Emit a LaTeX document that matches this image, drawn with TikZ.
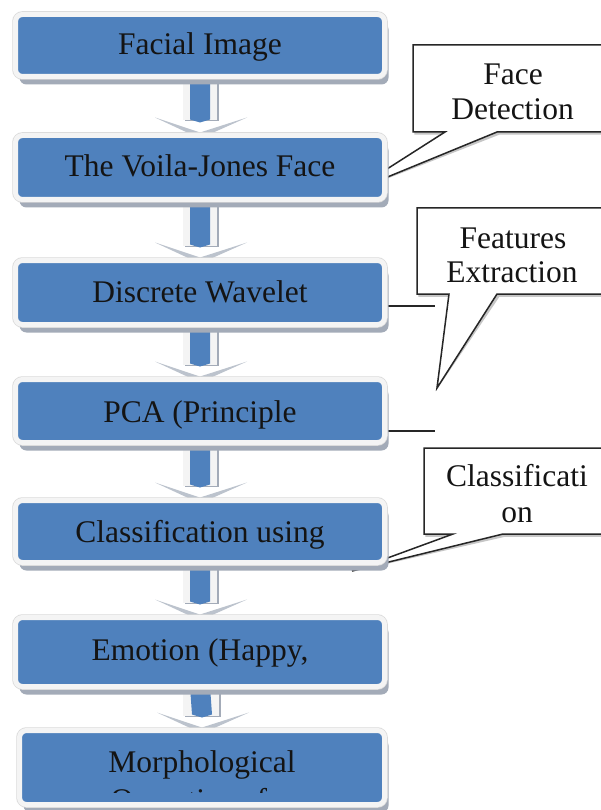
\documentclass[tikz,border=0pt]{standalone}
\usepackage{fontspec}
\setmainfont{Liberation Serif}
\usetikzlibrary{shadows,calc}
\definecolor{boxblue}{HTML}{4F81BD}
\definecolor{shadowgray}{HTML}{A3ABB8}
\definecolor{rimgray}{HTML}{F4F4F4}
\definecolor{chevgray}{HTML}{BCC3CD}
\newcommand\flowarrow[2]{%
  \fill[shadowgray] ([xshift=-15pt]#1.south) rectangle ([xshift=19pt,yshift=14pt]#2.north);
  \fill[rimgray] ([xshift=-17pt]#1.south) rectangle ([xshift=17pt,yshift=15pt]#2.north);
  \fill[boxblue] ([xshift=-10pt]#1.south) -- ([xshift=-10pt,yshift=16pt]#2.north)
     -- ([yshift=13pt]#2.north) -- ([xshift=10pt,yshift=16pt]#2.north)
     -- ([xshift=10pt]#1.south) -- cycle;
  \fill[chevgray] ([xshift=-45pt,yshift=18pt]#2.north) -- ([yshift=3pt]#2.north)
     -- ([xshift=47pt,yshift=18pt]#2.north) -- ([yshift=-3pt]#2.north) -- cycle;
}
\tikzset{
  flowbox/.style={rounded corners=7pt, fill=boxblue, draw=rimgray, line width=5pt,
    inner sep=0pt, outer sep=0pt,
    drop shadow={shadow xshift=4pt, shadow yshift=-8pt, fill=shadowgray, opacity=1},
    preaction={draw=gray!30, line width=6.5pt}},
  lbl/.style={font=\rmfamily\fontsize{31.5}{36}\selectfont, inner sep=0pt, anchor=base, text=black!92},
  callout/.style={fill=white, draw=black!85, line width=1.5pt, line join=miter},
  calloutshadow/.style={fill=gray!45, draw=gray!45, line width=1.5pt, line join=miter},
  tick/.style={draw=black!85, line width=1.5pt}
}
\begin{document}
\begin{tikzpicture}[x=1pt,y=-1pt]
\useasboundingbox (0,0) rectangle (601,810);
\clip (0,0) rectangle (601,810);
\fill[white] (0,0) rectangle (601,810);

% callout shapes (behind the boxes)
\coordinate (fdTip) at (351,192);
\coordinate (feTip) at (437,388);
\coordinate (clTip) at (352,571);
\begin{scope}[shift={(2,2)}]
\path[calloutshadow] (413,45) -- (615,45) -- (615,132) -- (497,132) -- (fdTip) -- (445,132) -- (413,132) -- cycle;
\path[calloutshadow] (417,208) -- (615,208) -- (615,294) -- (497,294) -- (feTip) -- (449,294) -- (417,294) -- cycle;
\path[calloutshadow] (424,448) -- (615,448) -- (615,534) -- (503,534) -- (clTip) -- (453,534) -- (424,534) -- cycle;
\end{scope}
\path[callout] (413,45) -- (615,45) -- (615,132) -- (497,132) -- (fdTip) -- (445,132) -- (413,132) -- cycle;
\path[callout] (417,208) -- (615,208) -- (615,294) -- (497,294) -- (feTip) -- (449,294) -- (417,294) -- cycle;
\path[callout] (424,448) -- (615,448) -- (615,534) -- (503,534) -- (clTip) -- (453,534) -- (424,534) -- cycle;

\node[lbl] (fdA) at (513,85) {Face};
\node[lbl] (fdB) at (512.5,120) {Detection};
\node[lbl] (feA) at (513,248) {Features};
\node[lbl] (feB) at (512,282) {Extraction};
\node[lbl] (clA) at (517,486) {Classificati};
\node[lbl] (clB) at (517,522) {on};

\coordinate (tickA) at (435,306);
\coordinate (tickB) at (435,431);

% box centres
\path (200,45.5)  coordinate (c1);
\path (200,167.5) coordinate (c2);
\path (200,292.5) coordinate (c3);
\path (200,411)   coordinate (c4);
\path (200,531.5) coordinate (c5);
\path (200,652)   coordinate (c6);
\path (202,767.5) coordinate (c7);

% invisible helper nodes for arrows
\node[minimum width=369pt, minimum height=62pt, inner sep=0pt, outer sep=0pt] (b1) at (c1) {};
\node[minimum width=369pt, minimum height=64pt, inner sep=0pt, outer sep=0pt] (b2) at (c2) {};
\node[minimum width=369pt, minimum height=64pt, inner sep=0pt, outer sep=0pt] (b3) at (c3) {};
\node[minimum width=369pt, minimum height=63pt, inner sep=0pt, outer sep=0pt] (b4) at (c4) {};
\node[minimum width=369pt, minimum height=62pt, inner sep=0pt, outer sep=0pt] (b5) at (c5) {};
\node[minimum width=369pt, minimum height=69pt, inner sep=0pt, outer sep=0pt] (b6) at (c6) {};
\node[minimum width=365pt, minimum height=74pt, inner sep=0pt, outer sep=0pt] (b7) at (c7) {};

\draw[tick] (b3.east |- tickA) -- (tickA);
\draw[tick] (b4.east |- tickB) -- (tickB);

\flowarrow{b1}{b2}
\flowarrow{b2}{b3}
\flowarrow{b3}{b4}
\flowarrow{b4}{b5}
\flowarrow{b5}{b6}
\flowarrow{b6}{b7}

\node[flowbox, minimum width=369pt, minimum height=62pt] (box1) at (c1) {};
\node[flowbox, minimum width=369pt, minimum height=64pt] (box2) at (c2) {};
\node[flowbox, minimum width=369pt, minimum height=64pt] (box3) at (c3) {};
\node[flowbox, minimum width=369pt, minimum height=63pt] (box4) at (c4) {};
\node[flowbox, minimum width=369pt, minimum height=62pt] (box5) at (c5) {};
\node[flowbox, minimum width=369pt, minimum height=69pt] (box6) at (c6) {};
\node[flowbox, minimum width=365pt, minimum height=74pt] (box7) at (c7) {};

\node[lbl] (t1) at (200,55)  {Facial Image};
\node[lbl] (t2) at (200,177) {The Voila-Jones Face};
\node[lbl] (t3) at (200,302) {Discrete Wavelet};
\node[lbl] (t4) at (200,422) {PCA (Principle};
\node[lbl] (t5) at (200,542) {Classification using};
\node[lbl] (t6) at (200,660) {Emotion (Happy,};
\node[lbl] (t7) at (202,772) {Morphological};
\begin{scope}
\clip (22,733) rectangle (382,792);
\node[lbl] (t7b) at (202,810) {Operations for};
\end{scope}
\end{tikzpicture}
\end{document}
